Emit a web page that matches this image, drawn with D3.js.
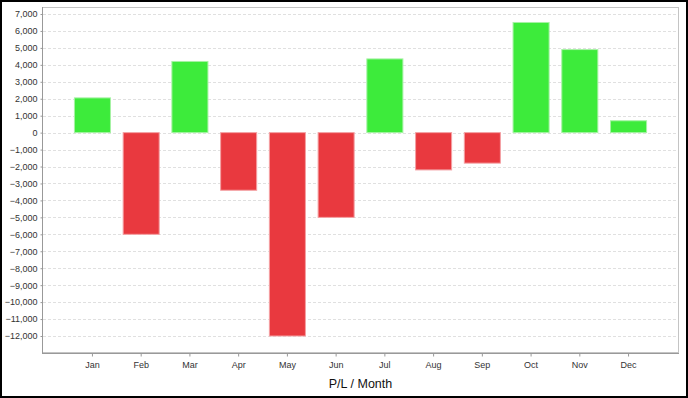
<!DOCTYPE html>
<html><head><meta charset="utf-8">
<script src="https://cdn.jsdelivr.net/npm/d3@7"></script>
<style>
html,body{margin:0;padding:0;background:#fff;}
svg{display:block;font-family:"Liberation Sans",Arial,sans-serif;}
</style></head>
<body>
<svg id="chart" width="688" height="398"></svg>
<script>
const months = ["Jan","Feb","Mar","Apr","May","Jun","Jul","Aug","Sep","Oct","Nov","Dec"];
const values = [2050,-6000,4200,-3400,-12000,-5000,4350,-2200,-1800,6500,4900,700];
const yTicks = [7000,6000,5000,4000,3000,2000,1000,0,-1000,-2000,-3000,-4000,-5000,-6000,-7000,-8000,-9000,-10000,-11000,-12000];
const xTitle = "P/L / Month";

const W = 688, H = 398;
const plot = {left: 42, right: 679, top: 7, bottom: 353};
const svg = d3.select("#chart");

svg.append("rect").attr("x",1).attr("y",1).attr("width",W-2).attr("height",H-2)
  .attr("fill","#fff").attr("stroke","#000").attr("stroke-width",2);

const y = d3.scaleLinear().domain([-13003, 7413]).range([plot.bottom, plot.top]);
const x = d3.scaleBand().domain(months).range([plot.left, plot.right])
  .paddingInner(0.24).paddingOuter(0.655);

// plot background + border
svg.append("rect").attr("x",plot.left+0.5).attr("y",plot.top+0.5)
  .attr("width",plot.right-plot.left-1).attr("height",plot.bottom-plot.top-1)
  .attr("fill","#fff").attr("stroke","#c4c4c4").attr("stroke-width",1);

// gridlines
svg.append("g").selectAll("line").data(yTicks).join("line")
  .attr("x1",plot.left+1).attr("x2",plot.right-1)
  .attr("y1",d=>Math.round(y(d))+0.5).attr("y2",d=>Math.round(y(d))+0.5)
  .attr("stroke","#e0e0e0").attr("stroke-width",1).attr("stroke-dasharray","3,2");

// bars
svg.append("g").selectAll("rect").data(values).join("rect")
  .attr("x",(d,i)=>x(months[i])+0.5)
  .attr("width",x.bandwidth()-1)
  .attr("y",d=>Math.min(y(d),y(0)))
  .attr("height",d=>Math.abs(y(d)-y(0)))
  .attr("fill",d=>d>=0?"#3deb3b":"#e9393f")
  .attr("stroke",d=>d>=0?"#a6f2a4":"#f4a0a3")
  .attr("stroke-width",1);

// y axis
const yAxis = d3.axisLeft(y).tickValues(yTicks).tickSize(2).tickPadding(3)
  .tickFormat(d3.format(","));
const gy = svg.append("g").attr("transform",`translate(${plot.left+0.5},0)`).call(yAxis);
gy.select(".domain").attr("stroke","#999").attr("d",`M0,${plot.top}V${plot.bottom}`);
gy.selectAll(".tick line").attr("stroke","#999");
gy.selectAll("text").attr("font-size","9px").attr("fill","#333")
  .attr("font-family","'Liberation Sans',Arial,sans-serif");

// x axis
const xAxis = d3.axisBottom(x).tickSize(3).tickPadding(5);
const gx = svg.append("g").attr("transform",`translate(0,${plot.bottom+0.5})`).call(xAxis);
gx.select(".domain").attr("stroke","#999").attr("d",`M${plot.left},0H${plot.right}`);
gx.selectAll(".tick line").attr("stroke","#999");
gx.selectAll("text").attr("font-size","9px").attr("fill","#333")
  .attr("font-family","'Liberation Sans',Arial,sans-serif");

svg.append("text").attr("x",(plot.left+plot.right)/2).attr("y",388)
  .attr("text-anchor","middle").attr("font-size","12.5px").attr("fill","#111")
  .text(xTitle);
</script>
</body></html>
